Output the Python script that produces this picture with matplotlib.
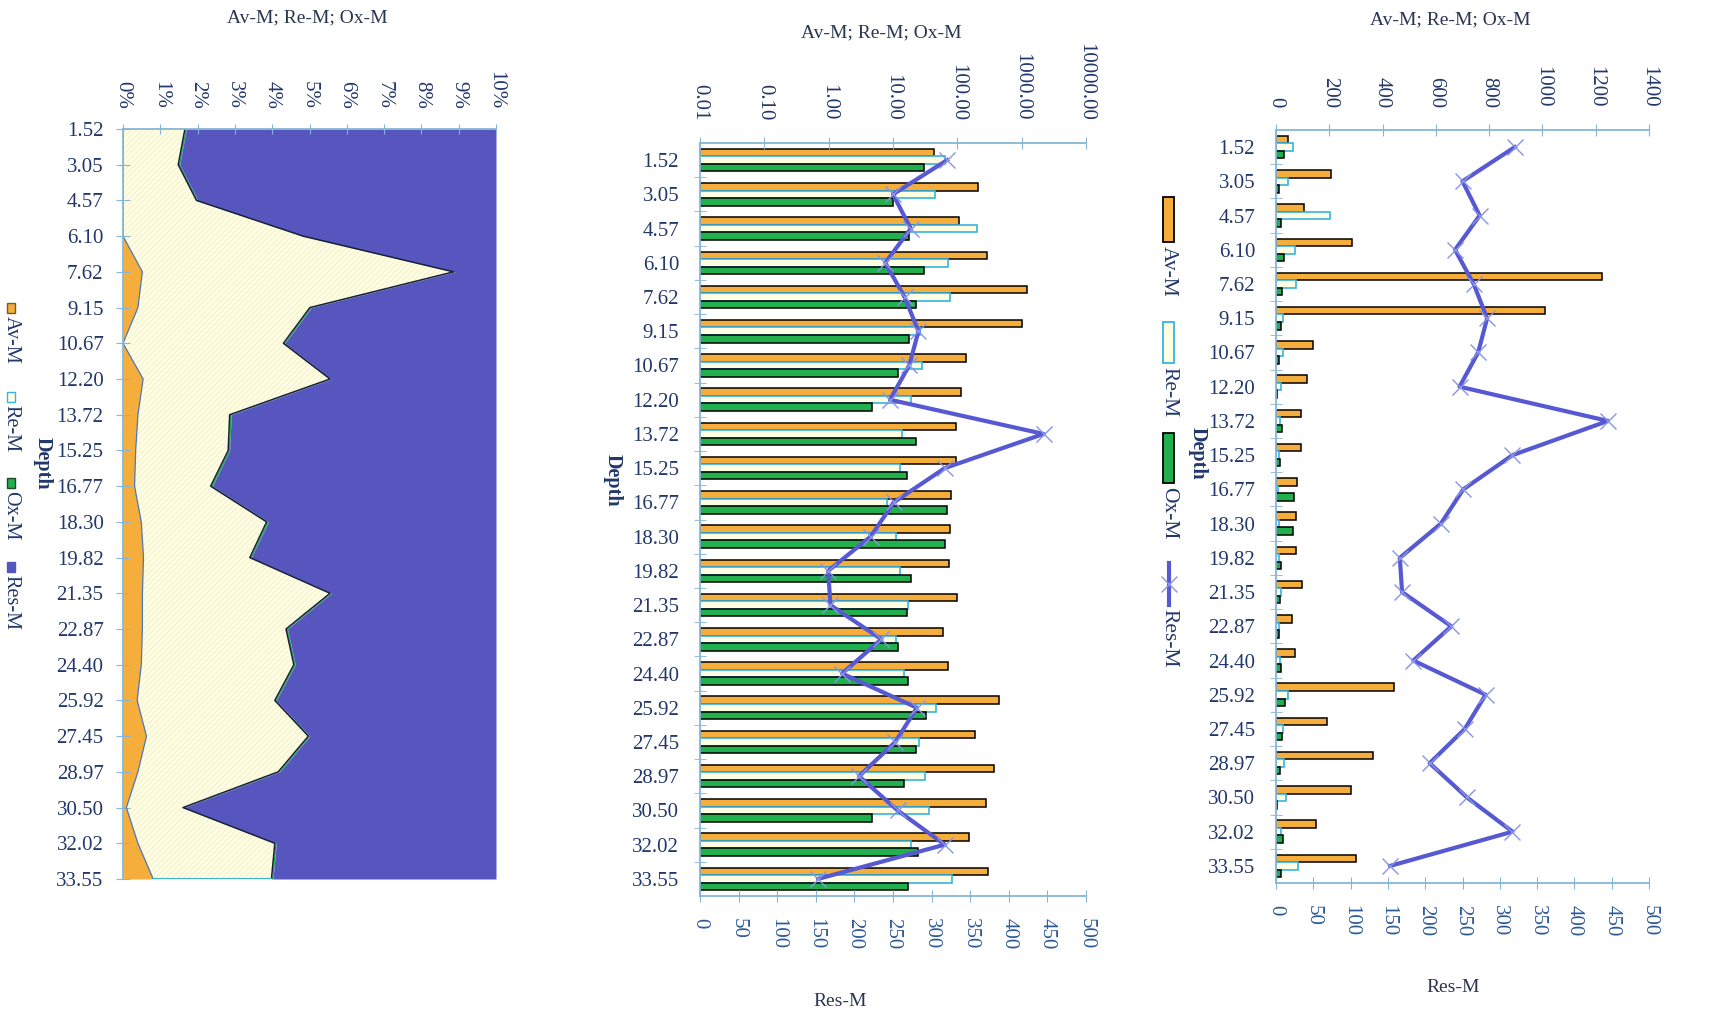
"""
Depth profiles of Av-M, Re-M, Ox-M and Res-M (three rotated panels).
"""

import matplotlib.pyplot as plt
import numpy as np
from matplotlib.patches import Rectangle
from matplotlib.lines import Line2D
from matplotlib.ticker import NullLocator

# ---- data ----
depths = ['1.52', '3.05', '4.57', '6.10', '7.62', '9.15', '10.67', '12.20', '13.72',
          '15.25', '16.77', '18.30', '19.82', '21.35', '22.87', '24.40', '25.92',
          '27.45', '28.97', '30.50', '32.02', '33.55']

av_m = [44, 207, 105, 285, 1225, 1008, 137, 116, 94, 94, 79, 76, 74, 98, 60, 72,
        443, 191, 365, 280, 151, 300]
re_m = [65, 45, 203, 72, 76, 26, 28, 19, 14, 13, 8, 11, 13, 17, 11, 15,
        46, 25, 31, 36, 19, 84]
ox_m = [30, 10, 18, 30, 23, 18, 12, 4.8, 22.5, 16.3, 68, 64, 19, 16.3, 12.1, 16.9,
        32.6, 22.8, 15, 4.8, 24.8, 16.9]
res_m = [320, 250, 273, 240, 265, 283, 271, 246, 445, 317, 251, 221, 166, 169, 235, 184,
         281, 253, 206, 256, 317, 153]

# left panel: stacked shares as shown on its 0-10% scale
av_share = [0, 0, 0, 0, 0.52, 0.40, 0, 0.54, 0.40, 0.34, 0.31, 0.49, 0.55, 0.52, 0.52,
            0.49, 0.38, 0.63, 0.40, 0.09, 0.40, 0.81]
re_share = [1.66, 1.48, 1.97, 4.83, 8.34, 4.61, 4.30, 5.01, 2.46, 2.48, 2.04, 3.36,
            2.85, 5.03, 3.85, 4.09, 3.69, 4.34, 3.76, 1.52, 3.67, 3.17]
ox_share = [0.04, 0.04, 0.04, 0.04, 0.04, 0.04, 0.04, 0.03, 0.04, 0.04, 0.05, 0.05,
            0.04, 0.04, 0.04, 0.04, 0.04, 0.04, 0.04, 0.03, 0.04, 0.04]

pct_ticks = [0, 1, 2, 3, 4, 5, 6, 7, 8, 9, 10]
log_ticks = [0.01, 0.1, 1, 10, 100, 1000, 10000]
lin_ticks = [0, 200, 400, 600, 800, 1000, 1200, 1400]
res_ticks = [0, 50, 100, 150, 200, 250, 300, 350, 400, 450, 500]

# ---- style ----
ORANGE = '#F5AE3C'
PALE = '#FFFDE2'
CYAN = '#35B4E4'
GREEN = '#22B04E'
BLUE = '#5656BE'
LINE = '#5759D2'
AXC = '#86B6D6'
TXT = '#22386b'
TXT_LOW = '#2d5a96'

W, H = 1719, 1019
plt.rcParams['font.family'] = ['Liberation Serif', 'DejaVu Serif']
plt.rcParams['hatch.linewidth'] = 0.5

fig = plt.figure(figsize=(W / 100, H / 100), dpi=100)


def box(x0, y0, x1, y1):
    return [x0 / W, 1 - y1 / H, (x1 - x0) / W, (y1 - y0) / H]


def fx(x, y):
    return (x / W, 1 - y / H)


n = len(depths)
y = np.arange(n)


def style_spines(ax, show):
    for side, sp in ax.spines.items():
        sp.set_visible(side in show)
        sp.set_color(AXC)
        sp.set_linewidth(1.3)


# 1. Left: 100% stacked area
ax1 = fig.add_axes(box(123, 129, 496, 879))
c1 = np.array(av_share)
c2 = c1 + np.array(re_share)
c3 = c2 + np.array(ox_share)
ax1.fill_betweenx(y, 0, c1, color=ORANGE, lw=0)
ax1.fill_betweenx(y, c1, c2, facecolor=PALE, edgecolor='#EEEDC4', hatch='//////', lw=0)
ax1.fill_betweenx(y, c2, c3, color=GREEN, lw=0)
ax1.fill_betweenx(y, c3, 10, color=BLUE, lw=0)
ax1.plot(c1, y, color='#4d78b0', lw=0.9)
ax1.plot(c2, y, color='#18203c', lw=1.1)
ax1.plot([c1[-1], c2[-1]], [y[-1], y[-1]], color=CYAN, lw=1.5)
ax1.set_xlim(0, 10)
ax1.set_ylim(n - 1, 0)
ax1.xaxis.tick_top()
ax1.set_xticks(pct_ticks, [f'{t}%' for t in pct_ticks], rotation=-90)
ax1.set_yticks(y, depths)
ax1.tick_params(axis='x', direction='inout', length=7, color=AXC, pad=11,
                labelsize=15, labelcolor=TXT)
ax1.tick_params(axis='y', direction='inout', length=10, color=AXC, pad=9,
                labelsize=15, labelcolor=TXT)
style_spines(ax1, ['top', 'left'])


def bar_panel(rect, log):
    ax = fig.add_axes(box(*rect))
    axb = ax.twiny()
    bh = 0.22
    base = 0.01 if log else 0
    ax.barh(y - bh, np.array(av_m) - base, left=base, height=bh, color=ORANGE,
            edgecolor='black', lw=1.1)
    ax.barh(y, np.array(re_m) - base, left=base, height=bh, color=PALE,
            edgecolor=CYAN, lw=1.2)
    ax.barh(y + bh, np.array(ox_m) - base, left=base, height=bh, color=GREEN,
            edgecolor='black', lw=1.1)
    if log:
        ax.set_xscale('log')
        ax.set_xlim(0.01, 10000)
        ax.set_xticks(log_ticks, [f'{t:.2f}' for t in log_ticks])
    else:
        ax.set_xlim(0, 1400)
        ax.set_xticks(lin_ticks, [str(t) for t in lin_ticks])
    ax.xaxis.set_minor_locator(NullLocator())
    ax.set_ylim(n - 0.5, -0.5)
    ax.xaxis.tick_top()
    for lab in ax.get_xticklabels():
        lab.set_rotation(-90)
    ax.set_yticks(y, depths)
    ax.set_yticks(np.arange(n - 1) + 0.5, minor=True)
    ax.tick_params(axis='x', direction='inout', length=8, color=AXC, pad=12,
                   labelsize=15, labelcolor=TXT)
    ax.tick_params(axis='y', which='major', length=0, pad=15, labelsize=15, labelcolor=TXT)
    ax.tick_params(axis='y', which='minor', direction='inout', length=8, color=AXC)
    style_spines(ax, ['top', 'left'])

    axb.plot(res_m, y, color=LINE, lw=3, marker='x', ms=12, mew=1, mec='#8a94e6')
    axb.set_xlim(0, 500)
    axb.xaxis.tick_bottom()
    axb.set_xticks(res_ticks, [str(t) for t in res_ticks], rotation=-90)
    axb.xaxis.set_minor_locator(NullLocator())
    axb.tick_params(axis='x', direction='inout', length=8, color=AXC, pad=12,
                    labelsize=15, labelcolor=TXT_LOW)
    style_spines(axb, ['bottom'])
    return ax, axb


# 2. Middle: log scale
ax2, ax2b = bar_panel((700, 143, 1086, 896), log=True)
# 3. Right: linear scale
ax3, ax3b = bar_panel((1276, 130, 1649, 883), log=False)

# axis titles
title = 'Av-M; Re-M; Ox-M'
for (tx, ty) in [(307, 18), (881, 33), (1450, 20)]:
    fig.text(*fx(tx, ty), title, ha='center', va='center', fontsize=14, color='#2a3550')
for (tx, ty) in [(840, 1002), (1453, 987)]:
    fig.text(*fx(tx, ty), 'Res-M', ha='center', va='center', fontsize=14, color='#2a3550')
for (tx, ty) in [(43, 463), (613, 480), (1198, 453)]:
    fig.text(*fx(tx, ty), 'Depth', ha='center', va='center', rotation=-90,
             fontsize=14.5, fontweight='bold', color=TXT)

# legend of the left panel (rotated)
left_leg = [('Av-M', ORANGE, '#7a5a20', 303), ('Re-M', PALE, CYAN, 392),
            ('Ox-M', GREEN, '#1a4a2a', 478), ('Res-M', BLUE, BLUE, 562)]
for name, fc, ec, top in left_leg:
    fig.add_artist(Rectangle(fx(7, top + 10), 8 / W, 10 / H, transform=fig.transFigure,
                             facecolor=fc, edgecolor=ec, lw=1))
    fig.text(*fx(11, top + 13), name, rotation=-90, ha='center', va='top',
             fontsize=14.5, color=TXT)

# legend of the bar panels (rotated)
bar_leg = [('Av-M', ORANGE, 'black', 197, 242), ('Re-M', PALE, CYAN, 322, 363),
           ('Ox-M', GREEN, 'black', 433, 483)]
for name, fc, ec, top, bot in bar_leg:
    fig.add_artist(Rectangle(fx(1163, bot), 11 / W, (bot - top) / H,
                             transform=fig.transFigure, facecolor=fc, edgecolor=ec, lw=1.3))
    fig.text(*fx(1168.5, bot + 4), name, rotation=-90, ha='center', va='top',
             fontsize=15.5, color=TXT)
fig.add_artist(Line2D([1168.5 / W, 1168.5 / W], [1 - 563 / H, 1 - 605 / H],
                      transform=fig.transFigure, color=LINE, lw=3))
fig.add_artist(Line2D([1168.5 / W], [1 - 584 / H], transform=fig.transFigure,
                      marker='x', ms=12, mew=1, mec='#8a94e6', ls='none'))
fig.text(*fx(1168.5, 609), 'Res-M', rotation=-90, ha='center', va='top',
         fontsize=15.5, color=TXT)

fig.savefig('out.png', dpi=100)
print('saved out.png')
